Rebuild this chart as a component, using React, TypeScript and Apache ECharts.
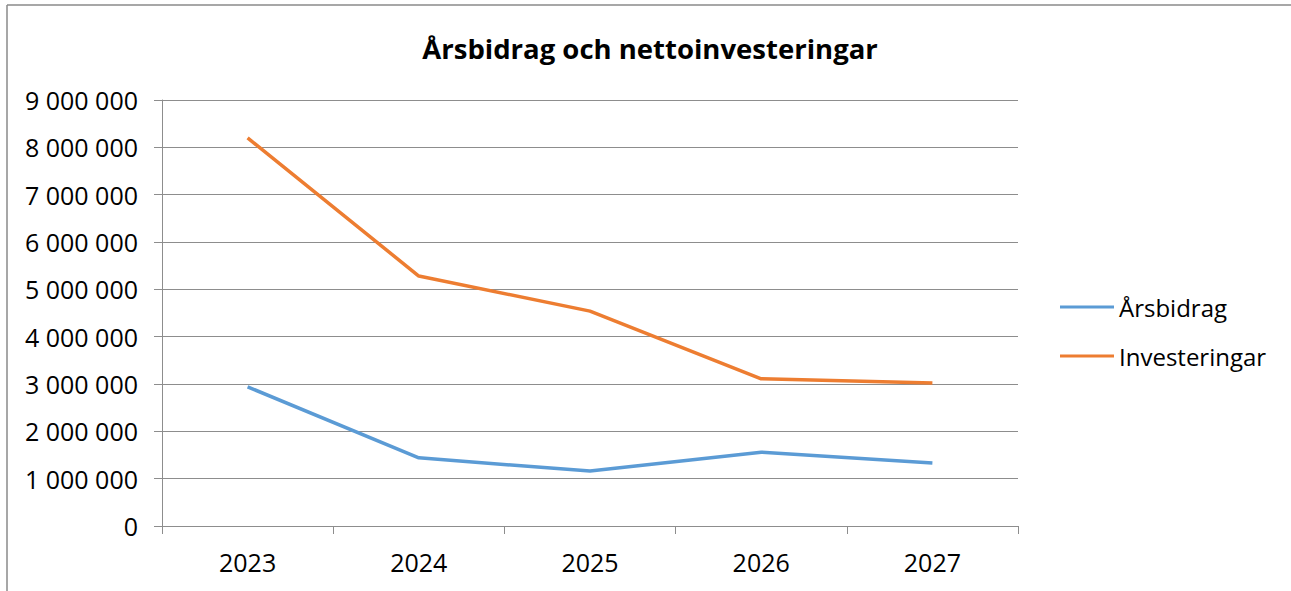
import React, { useEffect, useRef } from "react";
import * as echarts from "echarts";

const categories = ["2023", "2024", "2025", "2026", "2027"];
const arsbidrag = [2940000, 1440000, 1160000, 1560000, 1330000];
const investeringar = [8200000, 5280000, 4540000, 3110000, 3020000];
const seriesNames = ["Årsbidrag", "Investeringar"];
const titleText = "Årsbidrag och nettoinvesteringar";

const FONT = "'Open Sans', 'Noto Sans', sans-serif";
const GRID_COLOR = "#8d8d8d";

function fmt(v: number): string {
  return String(Math.round(v)).replace(/\B(?=(\d{3})+(?!\d))/g, " ");
}

export default function App() {
  const ref = useRef<HTMLDivElement>(null);
  useEffect(() => {
    if (!ref.current) return;
    const chart = echarts.init(ref.current, null, { renderer: "svg" });
    chart.setOption({
      animation: false,
      backgroundColor: "#ffffff",
      title: {
        text: titleText,
        left: 645,
        textAlign: "center",
        top: 29,
        textStyle: { fontFamily: FONT, fontWeight: "bold", fontSize: 27.5, color: "#000" },
      },
      graphic: [
        { type: "line", shape: { x1: 7, y1: 5, x2: 7, y2: 600 }, style: { stroke: "#8a8a8a", lineWidth: 1.5 } },
        { type: "line", shape: { x1: 7, y1: 5, x2: 1300, y2: 5 }, style: { stroke: "#8a8a8a", lineWidth: 1.5 } },
      ],
      legend: {
        orient: "vertical",
        left: 1055,
        top: 287,
        icon: "rect",
        itemWidth: 54,
        itemHeight: 3,
        itemGap: 19,
        data: seriesNames,
        textStyle: { fontFamily: FONT, fontSize: 24, color: "#000", lineHeight: 30, padding: [0, 0, 0, 0] },
      },
      grid: { left: 162, right: 273, top: 100, bottom: 65 },
      xAxis: {
        type: "category",
        data: categories,
        boundaryGap: true,
        axisLine: { lineStyle: { color: GRID_COLOR, width: 1 } },
        axisTick: { show: true, length: 8, lineStyle: { color: GRID_COLOR } },
        axisLabel: { fontFamily: FONT, fontSize: 25, color: "#000", margin: 23 },
      },
      yAxis: {
        type: "value",
        min: 0,
        max: 9000000,
        interval: 1000000,
        axisLine: { show: true, lineStyle: { color: GRID_COLOR, width: 1 } },
        axisTick: { show: true, length: 8, lineStyle: { color: GRID_COLOR } },
        splitLine: { show: true, lineStyle: { color: GRID_COLOR, width: 1 } },
        axisLabel: { fontFamily: FONT, fontSize: 25, color: "#000", margin: 24, formatter: (v: number) => fmt(v) },
      },
      series: [
        {
          name: seriesNames[0],
          type: "line",
          data: arsbidrag,
          symbol: "none",
          color: "#5B9BD5",
          lineStyle: { width: 3.5, color: "#5B9BD5" },
        },
        {
          name: seriesNames[1],
          type: "line",
          data: investeringar,
          symbol: "none",
          color: "#ED7D31",
          lineStyle: { width: 3.5, color: "#ED7D31" },
        },
      ],
    });
    return () => chart.dispose();
  }, []);
  return (
    <div
      ref={ref}
      style={{ position: "absolute", left: 0, top: 0, width: 1291, height: 591 }}
    />
  );
}
